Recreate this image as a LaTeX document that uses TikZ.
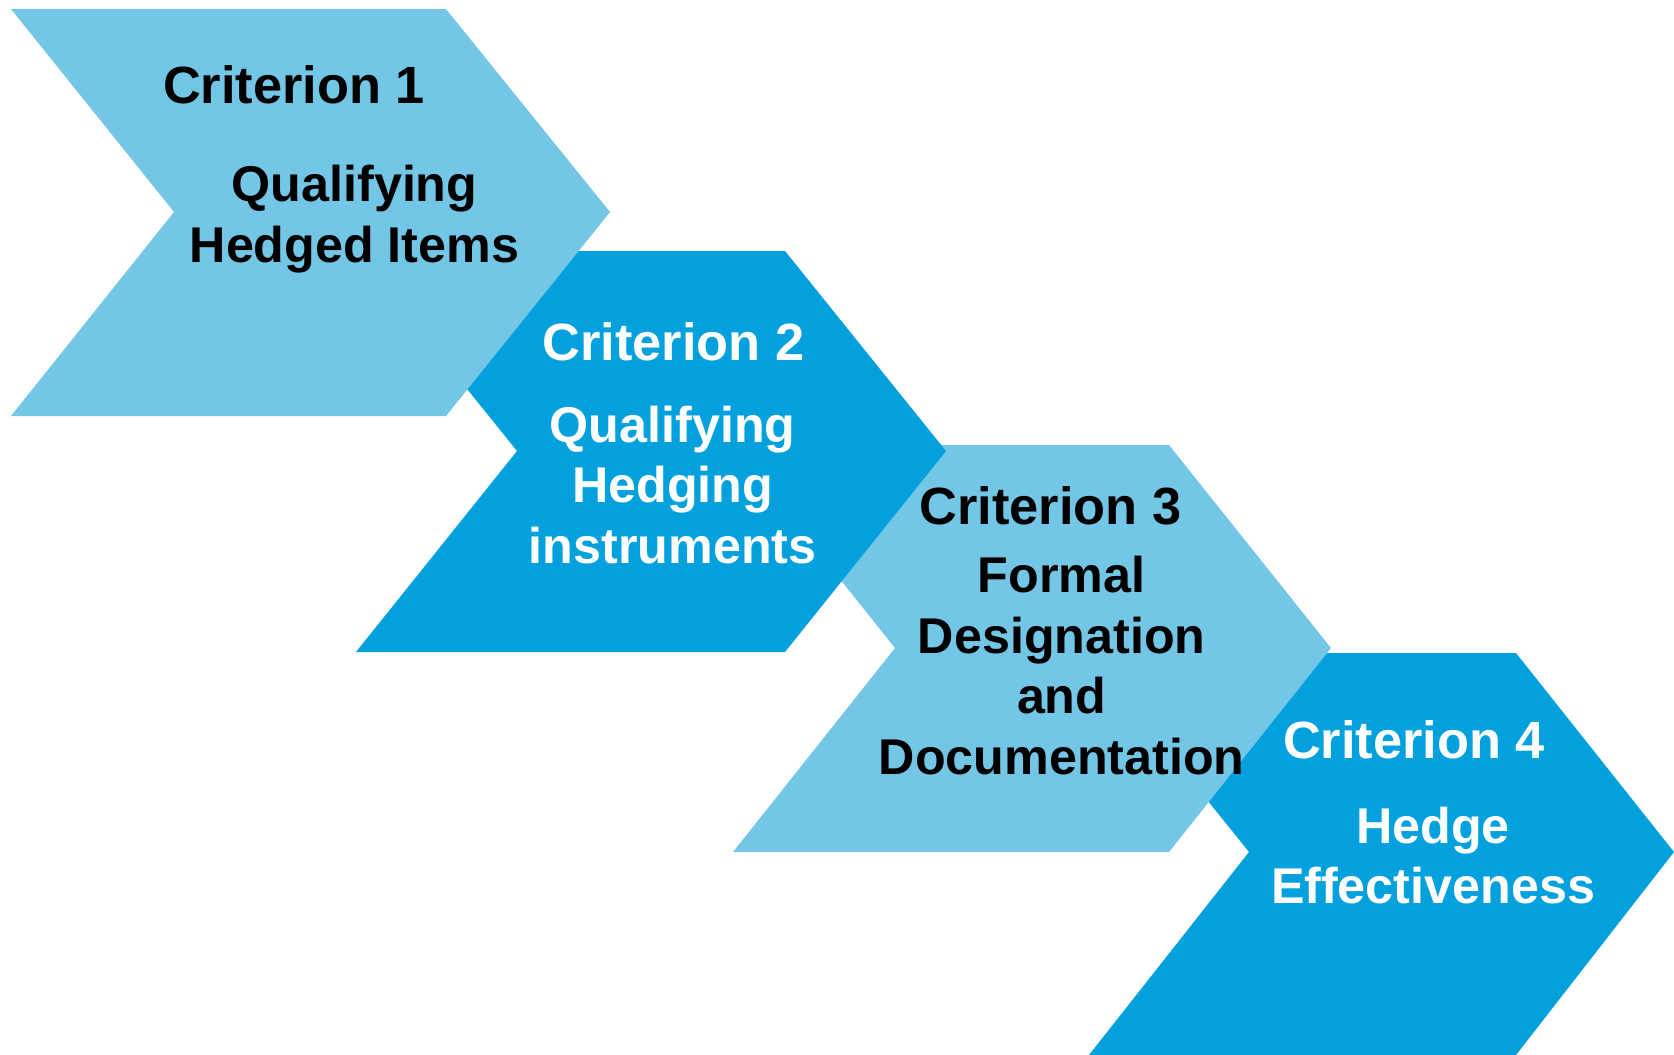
\documentclass[tikz,border=0pt]{standalone}
\usepackage{fontspec}
\setmainfont{Liberation Sans}
\usepackage{tikz}
\definecolor{liteblue}{RGB}{115,198,229}
\definecolor{deepblue}{RGB}{2,161,222}

\begin{document}
\begin{tikzpicture}[x=0.02cm,y=-0.02cm,
  ttl/.style={inner sep=0pt,font=\fontsize{29.8}{34.6}\selectfont\bfseries},
  txt/.style={inner sep=0pt,align=center,font=\fontsize{28.6}{34.6}\selectfont\bfseries}]
\useasboundingbox (0,0) rectangle (1674,1055);
% chevrons, last one first so each sits under the one before it
\fill[deepblue] (1089,653)--(1516,653)--(1674,852)--(1516,1055)--(1089,1055)--(1249,852)--cycle;
\fill[liteblue] (733,445)--(1169,445)--(1331,648)--(1169,852)--(733,852)--(895,648)--cycle;
\fill[deepblue] (356,251)--(785,251)--(946,451)--(785,652)--(356,652)--(517,451)--cycle;
\fill[liteblue] (11,9)--(446,9)--(610,212)--(446,416)--(11,416)--(174,212)--cycle;
% texts
\node[ttl] (crit1) at (294,85){Criterion 1};
\node[txt] (body1) at (354.5,219){Qualifying\\Hedged Items};
\node[ttl,white] (crit2) at (673.6,341.6){Criterion 2};
\node[txt,white] (body2) at (672.6,485){Qualifying\\Hedging\\instruments};
\node[ttl] (crit3) at (1050.5,506){Criterion 3};
\node[txt] (body3) at (1061.7,665.5){Formal\\Designation\\and\\Documentation};
\node[ttl,white] (crit4) at (1414,739.8){Criterion 4};
\node[txt,white] (body4) at (1433,855.5){Hedge\\Effectiveness};
\end{tikzpicture}
\end{document}
